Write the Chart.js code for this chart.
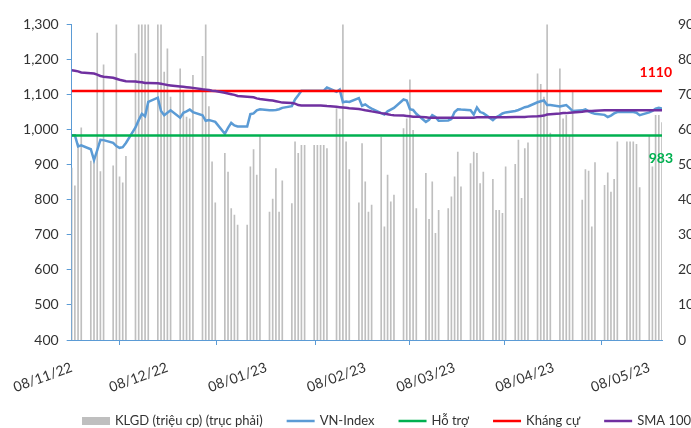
<!DOCTYPE html>
<html>
<head>
<meta charset="utf-8">
<script src="https://cdn.jsdelivr.net/npm/chart.js@4/dist/chart.umd.min.js"></script>
<style>
  html, body { margin: 0; padding: 0; background: #fff; overflow: hidden; }
  #wrap { position: relative; width: 700px; height: 428px; }
</style>
</head>
<body>
<div id="wrap"><canvas id="chart"></canvas></div>
<script>
// trading rows (holiday rows repeat the previous session, as in the source sheet)
const dates = [
  '2022-11-08','2022-11-09','2022-11-10','2022-11-11','2022-11-14','2022-11-15','2022-11-16','2022-11-17','2022-11-18',
  '2022-11-21','2022-11-22','2022-11-23','2022-11-24','2022-11-25','2022-11-28','2022-11-29','2022-11-30',
  '2022-12-01','2022-12-02','2022-12-05','2022-12-06','2022-12-07','2022-12-08','2022-12-09','2022-12-12','2022-12-13',
  '2022-12-14','2022-12-15','2022-12-16','2022-12-19','2022-12-20','2022-12-21','2022-12-22','2022-12-23','2022-12-26',
  '2022-12-27','2022-12-28','2022-12-29','2022-12-30',
  '2023-01-02','2023-01-03','2023-01-04','2023-01-05','2023-01-06','2023-01-09','2023-01-10','2023-01-11','2023-01-12',
  '2023-01-13','2023-01-16','2023-01-17','2023-01-18','2023-01-19','2023-01-20','2023-01-23','2023-01-24','2023-01-25',
  '2023-01-26','2023-01-27','2023-01-30','2023-01-31',
  '2023-02-01','2023-02-02','2023-02-03','2023-02-06','2023-02-07','2023-02-08','2023-02-09','2023-02-10','2023-02-13',
  '2023-02-14','2023-02-15','2023-02-16','2023-02-17','2023-02-20','2023-02-21','2023-02-22','2023-02-23','2023-02-24',
  '2023-02-27','2023-02-28',
  '2023-03-01','2023-03-02','2023-03-03','2023-03-06','2023-03-07','2023-03-08','2023-03-09','2023-03-10','2023-03-13',
  '2023-03-14','2023-03-15','2023-03-16','2023-03-17','2023-03-20','2023-03-21','2023-03-22','2023-03-23','2023-03-24',
  '2023-03-27','2023-03-28','2023-03-29','2023-03-30','2023-03-31',
  '2023-04-03','2023-04-04','2023-04-05','2023-04-06','2023-04-07','2023-04-10','2023-04-11','2023-04-12','2023-04-13',
  '2023-04-14','2023-04-17','2023-04-18','2023-04-19','2023-04-20','2023-04-21','2023-04-24','2023-04-25','2023-04-26',
  '2023-04-27','2023-04-28',
  '2023-05-01','2023-05-02','2023-05-03','2023-05-04','2023-05-05','2023-05-08','2023-05-09','2023-05-10','2023-05-11',
  '2023-05-12'
];

const vnIndex = [
  984, 984, 952, 955, 944, 913, 941, 971, 970, 962, 953, 948, 950, 962, 1006, 1027, 1045,
  1038, 1079, 1091, 1053, 1041, 1048, 1055, 1034, 1048, 1052, 1057, 1050, 1041, 1025, 1027, 1025, 1022, 988, 1005, 1019, 1012, 1009,
  1009, 1044, 1046, 1055, 1058, 1055, 1055, 1056, 1058, 1062, 1067, 1086, 1098, 1111, 1111, 1111, 1111, 1111, 1111, 1120, 1108, 1114,
  1078, 1080, 1079, 1090, 1068, 1072, 1065, 1060, 1047, 1043, 1052, 1057, 1062, 1086, 1083, 1058, 1056, 1045, 1022, 1028,
  1041, 1036, 1025, 1026, 1030, 1050, 1058, 1057, 1055, 1043, 1063, 1050, 1047, 1027, 1035, 1040, 1046, 1049, 1053, 1056, 1060, 1064, 1066,
  1078, 1081, 1083, 1070, 1070, 1066, 1068, 1070, 1062, 1053, 1055, 1058, 1052, 1048, 1045, 1042, 1036, 1040, 1046, 1050,
  1050, 1050, 1050, 1048, 1041, 1049, 1053, 1060, 1062, 1060
];

const sma100 = [
  1169, 1168, 1166, 1163, 1161, 1160, 1157, 1153, 1151, 1148, 1145, 1142, 1140, 1138, 1137, 1136, 1135,
  1133, 1133, 1132, 1131, 1129, 1127, 1126, 1123, 1122, 1121, 1120, 1119, 1115, 1114, 1113, 1111, 1110, 1105, 1103, 1101, 1099, 1096,
  1094, 1093, 1092, 1089, 1087, 1084, 1083, 1081, 1079, 1077, 1076, 1074, 1070, 1069, 1069, 1069, 1069, 1069, 1068, 1067, 1065, 1064,
  1063, 1062, 1061, 1059, 1057, 1055, 1054, 1052, 1047, 1046, 1044, 1042, 1041, 1040, 1039, 1038, 1037, 1037, 1035, 1034,
  1034, 1034, 1034, 1034, 1034, 1034, 1034, 1034, 1034, 1034, 1035, 1035, 1035, 1035, 1035, 1035, 1035, 1035, 1036, 1036, 1036, 1036, 1037,
  1038, 1039, 1040, 1043, 1044, 1046, 1047, 1047, 1048, 1049, 1051, 1052, 1053, 1053, 1054, 1055, 1055, 1055, 1055, 1055,
  1055, 1055, 1055, 1055, 1055, 1055, 1055, 1055, 1055, 1055
];

// KLGD, million shares (right axis); bars above 90 are cut by the axis
const volume = [
  49, 44, 56, 60.5, 51, 52, 87.5, 48, 78.5, 49.7, 95, 46.5, 44.8, 52.4, 81.7, 95, 95,
  95, 95, 95, 95, 76.4, 83, 69.3, 77.3, 70.7, 63.6, 63.1, 75.5, 80.9, 95, 66.6, 50.8, 39.1, 53.2, 47.9, 37.5, 35.6, 32.8,
  32.8, 49.4, 54.3, 47, 58.1, 36.5, 40.2, 48.9, 36.5, 45.4, 38.9, 56.5, 53.2, 55.5, 55.5, 55.5, 55.5, 55.5, 55.5, 54.6, 66, 63,
  95, 56.5, 48.6, 39.1, 56, 45.1, 36.5, 38.5, 57.9, 32.3, 47, 39.4, 41.3, 60.3, 63.1, 74.2, 59.8, 37.5, 47.5, 34.4,
  45.1, 30.4, 37, 37.5, 40.8, 46.5, 53.6, 43.7, 50.3, 53.6, 53.2, 44.6, 47.9, 45.8, 37, 37, 36.1, 49.4, 50.1, 57, 40.4, 54.6, 56.2,
  75.9, 72.9, 69.3, 95, 59, 77.3, 63.1, 64.1, 58.4, 70.7, 39.9, 48.6, 48.2, 32.3, 50.6, 44.1, 47.7, 42.2, 45.8, 56.5,
  56.5, 56.5, 56.5, 55.8, 43.5, 58.4, 49.4, 64.1, 64.1, 62
];

const supportLevel = 983;
const resistanceLevel = 1110;

const xTickDates = ['2022-11-08', '2022-12-08', '2023-01-08', '2023-02-08', '2023-03-08', '2023-04-08', '2023-05-08'];
const xTickLabels = ['08/11/22', '08/12/22', '08/01/23', '08/02/23', '08/03/23', '08/04/23', '08/05/23'];

const BLUE = '#5B9BD5', GREEN = '#00B050', RED = '#FF0000', PURPLE = '#7030A0', GRAY = '#BFBFBF';
const TEXT = '#333333';
const FONT = "Lato, 'Liberation Sans', sans-serif";

// x is days since the first row, so the axis spaces by calendar date like the original
const DAY = 86400000;
const t0 = Date.parse(dates[0]);
const dayNum = s => Math.round((Date.parse(s) - t0) / DAY);
const xs = dates.map(dayNum);
const points = arr => arr.map((v, i) => ({ x: xs[i], y: v }));
const xFirst = xs[0], xLast = xs[xs.length - 1];

const levelsAndLegend = {
  id: 'levelsAndLegend',
  afterDraw(chart) {
    const { ctx, chartArea, scales } = chart;
    ctx.save();
    ctx.font = 'bold 14px ' + FONT;
    ctx.textAlign = 'right';
    ctx.textBaseline = 'middle';
    ctx.fillStyle = RED;
    ctx.fillText(String(resistanceLevel), chartArea.right + 10, scales.y.getPixelForValue(resistanceLevel) - 19);
    ctx.fillStyle = GREEN;
    ctx.fillText(String(supportLevel), chartArea.right + 11, scales.y.getPixelForValue(supportLevel) + 23);

    // legend row
    ctx.font = '13px ' + FONT;
    ctx.textAlign = 'left';
    let x = 82;
    const y = 421;
    chart.data.datasets.forEach(ds => {
      if (ds.type === 'bar') {
        ctx.fillStyle = ds.backgroundColor;
        ctx.fillRect(x, y - 4, 28, 8);
      } else {
        ctx.strokeStyle = ds.borderColor;
        ctx.lineWidth = 2.5;
        ctx.beginPath();
        ctx.moveTo(x, y);
        ctx.lineTo(x + 28, y);
        ctx.stroke();
      }
      ctx.fillStyle = TEXT;
      ctx.fillText(ds.label, x + 33, y);
      x += 33 + ctx.measureText(ds.label).width + 24;
    });
    ctx.restore();
  }
};

Chart.defaults.font.family = FONT;
Chart.defaults.color = TEXT;

new Chart(document.getElementById('chart'), {
  type: 'line',
  data: {
    datasets: [
      {
        type: 'bar',
        label: 'KLGD (triệu cp) (trục phải)',
        data: points(volume),
        yAxisID: 'y1',
        backgroundColor: GRAY,
        barThickness: 1,
        order: 5,
      },
      {
        label: 'VN-Index',
        data: points(vnIndex),
        yAxisID: 'y',
        borderColor: BLUE,
        borderWidth: 2.5,
        pointRadius: 0,
        tension: 0,
        order: 4,
      },
      {
        label: 'Hỗ trợ',
        data: [{ x: xFirst, y: supportLevel }, { x: xLast, y: supportLevel }],
        yAxisID: 'y',
        borderColor: GREEN,
        borderWidth: 2.5,
        pointRadius: 0,
        order: 3,
      },
      {
        label: 'Kháng cự',
        data: [{ x: xFirst, y: resistanceLevel }, { x: xLast, y: resistanceLevel }],
        yAxisID: 'y',
        borderColor: RED,
        borderWidth: 2.5,
        pointRadius: 0,
        order: 2,
      },
      {
        label: 'SMA 100',
        data: points(sma100),
        yAxisID: 'y',
        borderColor: PURPLE,
        borderWidth: 2.5,
        pointRadius: 0,
        tension: 0,
        order: 1,
      },
    ],
  },
  options: {
    responsive: true,
    maintainAspectRatio: false,
    animation: false,
    layout: { padding: { top: 24, left: 0, right: 0, bottom: 0 } },
    plugins: {
      legend: { display: false },
      tooltip: { enabled: false },
    },
    scales: {
      x: {
        type: 'linear',
        min: xFirst,
        max: xLast,
        offset: false,
        afterBuildTicks: scale => {
          scale.ticks = xTickDates.map(d => ({ value: dayNum(d) }));
        },
        afterFit: scale => { scale.height = 88; },
        ticks: {
          autoSkip: false,
          minRotation: 20,
          maxRotation: 20,
          padding: 14,
          font: { size: 14 },
          callback: (value, index) => xTickLabels[index],
        },
        grid: { drawOnChartArea: false, drawTicks: true, tickLength: 5, color: BLUE },
        border: { color: BLUE, width: 1 },
      },
      y: {
        position: 'left',
        min: 400,
        max: 1300,
        afterFit: scale => { scale.width = 66; },
        ticks: { stepSize: 100, padding: 8, font: { size: 14 } },
        grid: { drawOnChartArea: false, drawTicks: true, tickLength: 5, color: BLUE },
        border: { color: BLUE, width: 1 },
      },
      y1: {
        position: 'right',
        min: 0,
        max: 90,
        afterFit: scale => { scale.width = 38; },
        ticks: { stepSize: 10, padding: 16, font: { size: 14 } },
        grid: { display: false, drawTicks: false },
        border: { display: false },
      },
    },
  },
  plugins: [levelsAndLegend],
});
</script>
</body>
</html>
